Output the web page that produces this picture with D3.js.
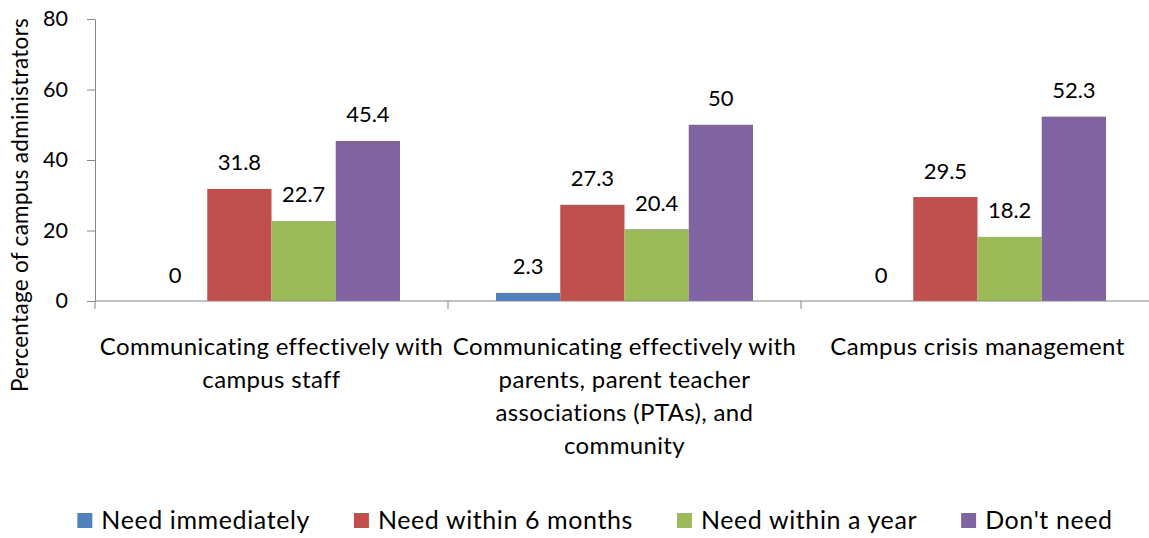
<!DOCTYPE html>
<html>
<head>
<meta charset="utf-8">
<script src="https://cdn.jsdelivr.net/npm/d3@7"></script>
<style>
  html, body { margin: 0; padding: 0; background: #fff; }
  svg { display: block; font-family: Lato, "Open Sans", sans-serif; }
</style>
</head>
<body>
<svg id="chart" width="1149" height="538"></svg>
<script>
const categories = [
  "Communicating effectively with campus staff",
  "Communicating effectively with parents, parent teacher associations (PTAs), and community",
  "Campus crisis management"
];
const categoryLines = [
  ["Communicating effectively with", "campus staff"],
  ["Communicating effectively with", "parents, parent teacher", "associations (PTAs), and", "community"],
  ["Campus crisis management"]
];
const seriesNames = ["Need immediately", "Need within 6 months", "Need within a year", "Don't need"];
const needImmediately = [0, 2.3, 0];
const needWithin6Months = [31.8, 27.3, 29.5];
const needWithinAYear = [22.7, 20.4, 18.2];
const dontNeed = [45.4, 50, 52.3];
const seriesColors = ["#4F81BD", "#C0504D", "#9BBB59", "#8064A2"];
const yTicks = [0, 20, 40, 60, 80];
const yTitle = "Percentage of campus administrators";

const seriesValues = [needImmediately, needWithin6Months, needWithinAYear, dontNeed];

const svg = d3.select("#chart");
const W = 1149, H = 538;
const mLeft = 95, mRight = 1154, mTop = 19, mBottom = 301;
const axisColor = "#868686";

const x0 = d3.scaleBand().domain(categories).range([mLeft, mRight]).padding(0);
const bw = x0.bandwidth();
const gap = bw * 0.136;
const x1 = d3.scaleBand().domain(seriesNames).range([gap, bw - gap]).padding(0);
const y = d3.scaleLinear().domain([0, 80]).range([mBottom, mTop]);

// bars
const groups = svg.append("g").selectAll("g")
  .data(categories).join("g")
  .attr("transform", c => `translate(${x0(c)},0)`);

groups.each(function(c, ci) {
  const g = d3.select(this);
  seriesNames.forEach((s, si) => {
    const v = seriesValues[si][ci];
    g.append("rect")
      .attr("x", x1(s))
      .attr("y", y(v))
      .attr("width", x1.bandwidth())
      .attr("height", y(0) - y(v))
      .attr("fill", seriesColors[si]);
    g.append("text")
      .attr("x", x1(s) + x1.bandwidth() / 2)
      .attr("y", y(v) - 18.5)
      .attr("text-anchor", "middle")
      .attr("font-size", 22)
      .attr("fill", "#000")
      .text(String(v));
  });
});

// y axis
const yAxis = svg.append("g")
  .attr("transform", `translate(${mLeft},0)`)
  .call(d3.axisLeft(y).tickValues(yTicks).tickSize(8).tickPadding(19).tickSizeOuter(0));
yAxis.select(".domain").attr("stroke", axisColor);
yAxis.selectAll(".tick line").attr("stroke", axisColor);
yAxis.selectAll(".tick text").attr("font-size", 21.5).attr("fill", "#000")
  .attr("font-family", "Lato, 'Open Sans', sans-serif");

// x axis
const xg = svg.append("g");
xg.append("line")
  .attr("x1", mLeft).attr("x2", W)
  .attr("y1", y(0)).attr("y2", y(0))
  .attr("stroke", axisColor);
const boundaries = categories.map(c => x0(c)).concat([x0(categories[categories.length - 1]) + bw]);
xg.selectAll("line.tk").data(boundaries).join("line")
  .attr("class", "tk")
  .attr("x1", d => d).attr("x2", d => d)
  .attr("y1", y(0)).attr("y2", y(0) + 8)
  .attr("stroke", axisColor);

categories.forEach((c, ci) => {
  const t = xg.append("text")
    .attr("text-anchor", "middle")
    .attr("font-size", 24)
    .attr("letter-spacing", 0.35)
    .attr("fill", "#000");
  categoryLines[ci].forEach((ln, li) => {
    t.append("tspan")
      .attr("x", x0(c) + bw / 2)
      .attr("y", 355 + li * 33)
      .text(ln);
  });
});

// y title
svg.append("text")
  .attr("transform", `translate(28,205) rotate(-90)`)
  .attr("text-anchor", "middle")
  .attr("font-size", 22.5)
  .attr("letter-spacing", 0.3)
  .attr("fill", "#000")
  .text(yTitle);

// legend
const leg = svg.append("g");
const items = seriesNames.map((s, i) => {
  const g = leg.append("g");
  g.append("rect").attr("width", 15).attr("height", 15).attr("y", -16).attr("fill", seriesColors[i]);
  const t = g.append("text").attr("x", 24).attr("y", 0).attr("font-size", 25)
    .attr("letter-spacing", 0.6).attr("fill", "#000").text(s);
  return { g, w: 24 + t.node().getComputedTextLength() };
});
const legGap = 44;
const total = d3.sum(items, d => d.w) + legGap * (items.length - 1);
let lx = 595 - total / 2;
items.forEach(it => {
  it.g.attr("transform", `translate(${lx},529)`);
  lx += it.w + legGap;
});
</script>
</body>
</html>
